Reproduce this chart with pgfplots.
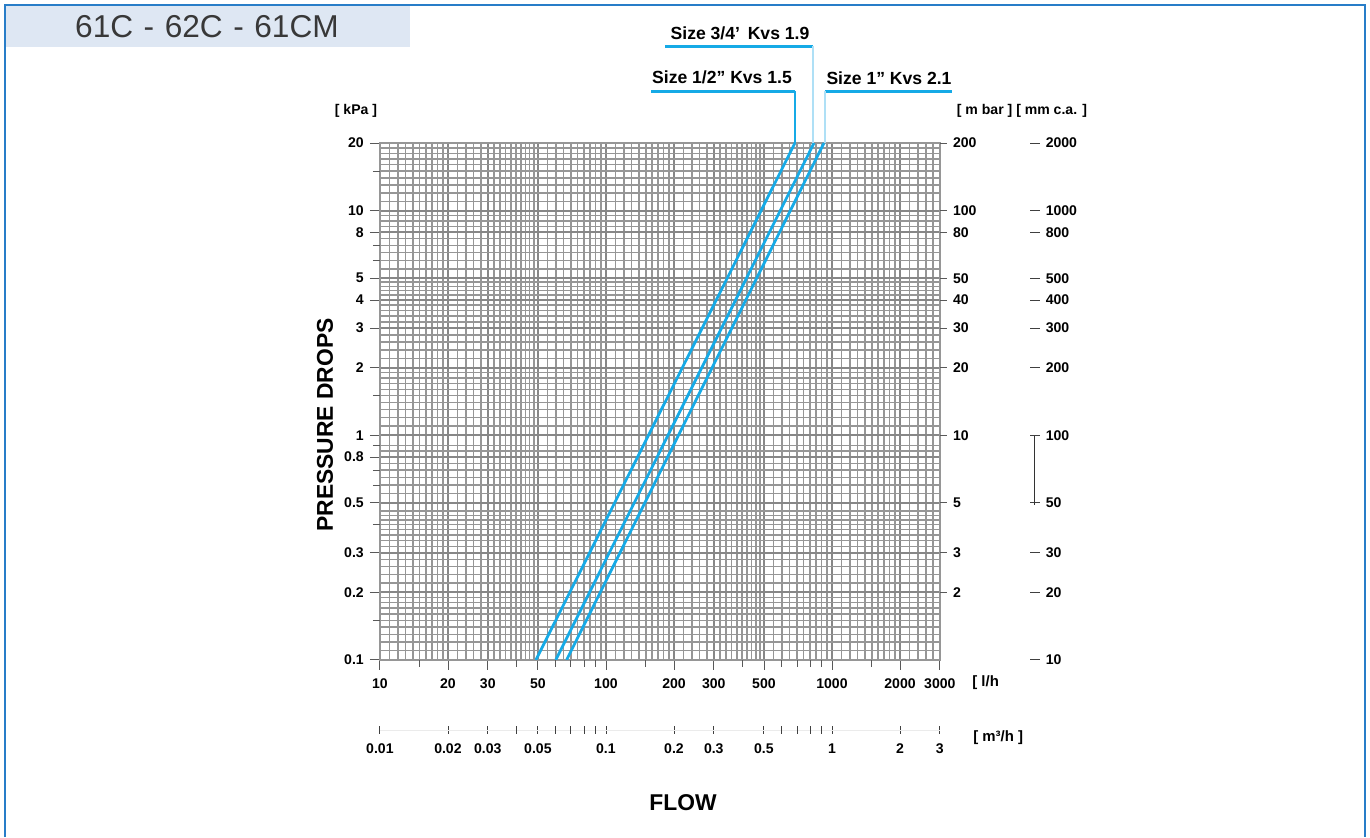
\documentclass[border=0pt]{standalone}
\usepackage{pgfplots}
\pgfplotsset{compat=1.18}
\usepackage{fontspec}
\setmainfont{Liberation Sans}[Ligatures=ResetAll]

\definecolor{kvsblue}{RGB}{22,170,230}
\definecolor{palelead}{RGB}{175,224,246}
\definecolor{frameblue}{RGB}{40,125,200}
\definecolor{titlefill}{RGB}{222,231,243}
\definecolor{gridgray}{RGB}{150,150,150}

\newcommand{\tlfont}{\bfseries\fontsize{8}{9}\selectfont}

\begin{document}
\begin{tikzpicture}
% page, frame and title (1 unit = 1 px of the reference)
\begin{scope}[x=0.02cm,y=-0.02cm]
  \fill[white] (0,0) rectangle (1370,837);
  \fill[titlefill] (5,5) rectangle (410,47);
  \draw[frameblue, line width=0.35mm] (5,837) -- (5,5) -- (1365,5) -- (1365,837);
  \node[text=black!78, font=\fontsize{18}{20}\selectfont] at (207,27) {61C\,\,-\,\,62C\,\,-\,\,61CM};
\end{scope}

% main chart, kPa vs l/h
\begin{axis}[
    at={(7.6cm,-13.2cm)}, anchor=south west,
    scale only axis, width=11.2cm, height=10.34cm,
    xmode=log, ymode=log,
    xmin=10, xmax=3000, ymin=0.1, ymax=20,
    xtick={10,20,30,50,100,200,300,500,1000,2000,3000},
    xticklabels={10,20,30,50,100,200,300,500,1000,2000,3000},
    ytick={0.1,0.2,0.3,0.5,0.8,1,2,3,4,5,8,10,20},
    yticklabels={0.1,0.2,0.3,0.5,0.8,1,2,3,4,5,8,10,20},
    minor xtick={11,12,...,19,22,24,...,48,55,60,...,95,110,120,...,190,220,240,...,480,550,600,...,950,1100,1200,...,1900,2200,2400,...,2800},
    minor ytick={0.11,0.12,...,0.19,0.22,0.24,...,0.48,0.55,0.6,...,0.95,1.1,1.2,...,1.9,2.2,2.4,...,4.8,5.5,6,...,9.5,11,12,...,19},
    extra x ticks={15,40,60,70,80,90,150,400,600,700,800,900,1500},
    extra x tick labels={},
    extra x tick style={grid=none, major tick length=1.4mm},
    extra y ticks={0.15,0.4,0.6,0.7,0.9,1.5,6,7,15},
    extra y tick labels={},
    extra y tick style={grid=none, major tick length=1.4mm},
    grid=both,
    major grid style={gridgray!90!black, line width=1.1pt},
    minor grid style={gridgray, line width=0.85pt},
    axis line style={gridgray, line width=1pt},
    tick style={black!65, line width=0.5pt},
    tick align=outside, tick pos=left,
    major tick length=2mm, minor tick length=0pt,
    tick label style={font=\tlfont},
    xticklabel style={yshift=-0.6mm},
]
\addplot[kvsblue, line width=0.55mm] coordinates {(49,0.1) (686,20)};
\addplot[kvsblue, line width=0.55mm] coordinates {(60,0.1) (833,20)};
\addplot[kvsblue, line width=0.55mm] coordinates {(67,0.1) (922,20)};
\end{axis}

% right scale, m bar
\begin{axis}[
    at={(7.6cm,-13.2cm)}, anchor=south west,
    scale only axis, width=11.2cm, height=10.34cm,
    ymode=log, ymin=1, ymax=200, xmin=0, xmax=1,
    hide x axis, axis y line*=right,
    y axis line style={draw=none},
    ytick={2,3,5,10,20,30,40,50,80,100,200},
    yticklabels={2,3,5,10,20,30,40,50,80,100,200},
    minor ytick={}, tick align=outside,
    major tick length=1.4mm,
    tick style={black!65, line width=0.5pt},
    tick label style={font=\tlfont},
]
\end{axis}

% right scale, mm c.a.
\begin{axis}[
    at={(20.66cm,-13.2cm)}, anchor=south west,
    scale only axis, width=1pt, height=10.34cm,
    ymode=log, ymin=10, ymax=2000, xmin=0, xmax=1,
    hide x axis, axis y line*=right,
    y axis line style={draw=none},
    ytick={10,20,30,50,100,200,300,400,500,800,1000,2000},
    yticklabels={10,20,30,50,100,200,300,400,500,800,1000,2000},
    minor ytick={}, tick align=center,
    major tick length=2mm,
    tick style={black!75, line width=0.5pt},
    tick label style={font=\tlfont},
]
\end{axis}

% bottom scale, m3/h
\begin{axis}[
    at={(7.6cm,-14.6cm)}, anchor=south west,
    scale only axis, width=11.2cm, height=1pt,
    xmode=log, xmin=0.01, xmax=3, ymin=0, ymax=1,
    hide y axis, axis x line*=bottom,
    x axis line style={black!8},
    xtick={0.01,0.02,0.03,0.05,0.1,0.2,0.3,0.5,1,2,3},
    xticklabels={0.01,0.02,0.03,0.05,0.1,0.2,0.3,0.5,1,2,3},
    extra x ticks={0.04,0.06,0.07,0.08,0.09,0.6,0.7,0.8,0.9},
    extra x tick labels={},
    minor xtick={}, tick align=center,
    major tick length=1.6mm,
    tick style={black!75, line width=0.5pt},
    tick label style={font=\tlfont},
    xticklabel style={yshift=-0.8mm},
]
\end{axis}

% labels and leader lines
\begin{scope}[x=0.02cm,y=-0.02cm]
  \draw[black!80, line width=0.4pt] (1034,436) -- (1034,505);
  \node[font=\bfseries\fontsize{8}{9}\selectfont] at (356,111) {[ kPa ]};
  \node[font=\bfseries\fontsize{8}{9}\selectfont] at (1022,111) {[ m bar ] [ mm c.a. ]};
  \node[font=\bfseries\fontsize{8.5}{9}\selectfont, anchor=west, inner sep=0pt] at (972,683) {[ l/h};
  \node[font=\bfseries\fontsize{8.5}{9}\selectfont, anchor=west, inner sep=0pt] at (973,738) {[ m³/h ]};
  \node[font=\bfseries\fontsize{13}{15}\selectfont, rotate=90] at (325,425) {PRESSURE DROPS};
  \node[font=\bfseries\fontsize{13}{15}\selectfont] at (683,803) {FLOW};

  \node[font=\bfseries\fontsize{10}{12}\selectfont] at (740,33) {Size 3/4'\ \,Kvs 1.9};
  \draw[kvsblue, line width=0.6mm] (665,46) -- (813,46);
  \draw[palelead, line width=0.3mm] (813,46) -- (813,143);

  \node[font=\bfseries\fontsize{10}{12}\selectfont] at (722,77) {Size 1/2" Kvs 1.5};
  \draw[kvsblue, line width=0.6mm] (651,91) -- (795,91);
  \draw[kvsblue, line width=0.4mm] (795,91) -- (795,143);

  \node[font=\bfseries\fontsize{10}{12}\selectfont] at (889,78) {Size 1" Kvs 2.1};
  \draw[kvsblue, line width=0.6mm] (825,91) -- (952,91);
  \draw[palelead, line width=0.3mm] (825,91) -- (825,143);
\end{scope}
\end{tikzpicture}
\end{document}
